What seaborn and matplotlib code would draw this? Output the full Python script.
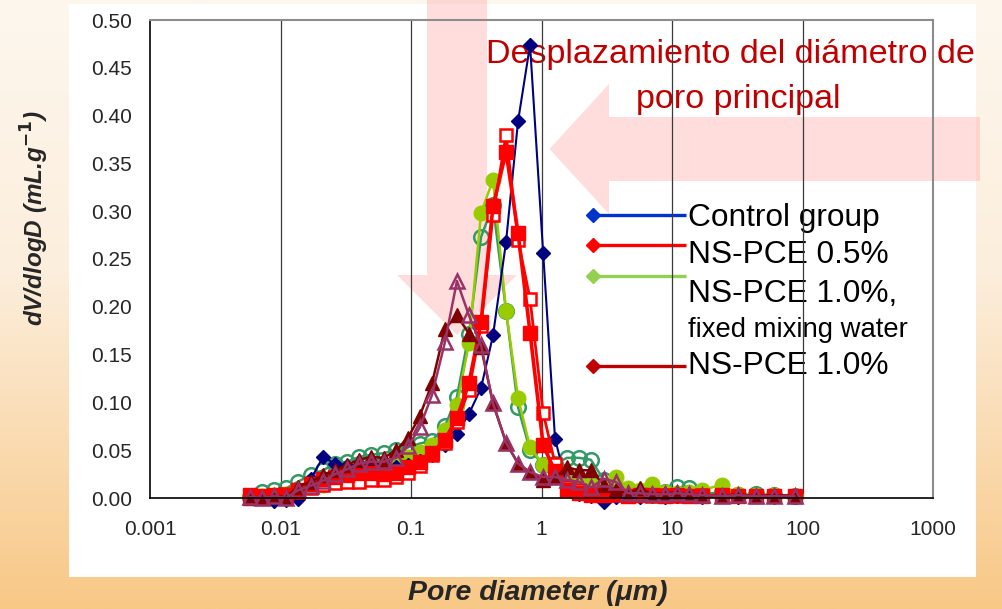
import numpy as np
import pandas as pd
import matplotlib
matplotlib.use("Agg")
import matplotlib.pyplot as plt
from matplotlib.colors import LinearSegmentedColormap
from matplotlib.patches import Polygon, Rectangle
import matplotlib.ticker as mticker
import seaborn as sns

# Pore diameter (um) of the intrusion steps
pore_um = [0.0058, 0.0072, 0.0089, 0.011, 0.0136, 0.0171, 0.0212, 0.0262, 0.0324, 0.040,
           0.049, 0.062, 0.077, 0.095, 0.117, 0.145, 0.182, 0.225, 0.278, 0.344,
           0.425, 0.535, 0.661, 0.817, 1.03, 1.27, 1.57, 1.94, 2.39, 3.0,
           3.7, 4.6, 5.7, 7.0, 8.8, 11.0, 13.6, 17.0, 24.0, 32.0,
           44.0, 60.0, 87.0]

nan = np.nan
# dV/dlogD (mL/g)
control = [nan, nan, -0.003, -0.002, -0.001, 0.020, 0.043, 0.036, 0.033, 0.031,
           0.031, 0.030, 0.032, 0.034, 0.039, 0.045, 0.055, 0.067, 0.088, 0.115,
           0.170, 0.268, 0.394, 0.474, 0.256, 0.062, 0.012, 0.004, 0.002, -0.004,
           0.001, 0.002, 0.001, 0.002, 0.001, 0.002, 0.002, 0.001, 0.002, 0.001,
           0.002, 0.001, 0.001]
pce05_a = [0.003, 0.002, 0.003, 0.003, 0.008, 0.015, 0.020, 0.022, 0.024, 0.026,
           0.026, 0.025, 0.026, 0.032, 0.038, 0.047, 0.061, 0.084, 0.120, 0.184,
           0.305, 0.362, 0.277, 0.173, 0.055, 0.028, 0.008, 0.005, 0.003, 0.003,
           0.004, 0.002, 0.003, 0.003, 0.002, 0.003, 0.002, 0.002, 0.003, 0.002,
           0.002, 0.002, 0.002]
pce05_b = [0.001, 0.002, 0.002, 0.004, 0.006, 0.010, 0.014, 0.016, 0.017, 0.017,
           0.019, 0.019, 0.022, 0.026, 0.033, 0.045, 0.058, 0.080, 0.113, 0.180,
           0.296, 0.380, 0.270, 0.208, 0.089, 0.036, 0.012, 0.008, 0.004, 0.003,
           0.003, 0.002, 0.003, 0.002, 0.003, 0.002, 0.002, 0.003, 0.002, 0.002,
           0.002, 0.002, 0.002]
fixed_a = [0.002, 0.002, 0.003, 0.004, 0.008, 0.011, 0.014, 0.018, 0.021, 0.025,
           0.030, 0.033, 0.038, 0.043, 0.048, 0.055, 0.071, 0.097, 0.162, 0.298,
           0.333, 0.196, 0.105, 0.053, 0.035, 0.030, 0.025, 0.020, 0.016, 0.014,
           0.022, 0.010, 0.008, 0.015, 0.006, 0.005, 0.006, 0.008, 0.014, 0.004,
           0.003, 0.003, 0.002]
fixed_b = [0.001, 0.006, 0.008, 0.010, 0.017, 0.024, 0.029, 0.036, 0.038, 0.043,
           0.045, 0.047, 0.050, 0.053, 0.057, 0.060, 0.075, 0.106, 0.172, 0.273,
           0.306, 0.196, 0.095, 0.050, 0.035, 0.036, 0.042, 0.042, 0.040, 0.019,
           0.012, 0.008, 0.006, 0.005, 0.006, 0.011, 0.010, 0.004, 0.006, 0.003,
           0.004, 0.003, 0.002]
pce10_a = [0.000, 0.000, 0.002, 0.001, 0.012, 0.017, 0.024, 0.029, 0.035, 0.040,
           0.043, 0.042, 0.050, 0.063, 0.086, 0.120, 0.177, 0.191, 0.172, 0.158,
           0.099, 0.058, 0.036, 0.027, 0.019, 0.022, 0.032, 0.029, 0.029, 0.014,
           0.008, 0.005, 0.010, 0.004, 0.005, 0.006, 0.004, 0.003, 0.002, 0.004,
           0.002, 0.003, 0.002]
pce10_b = [0.001, 0.000, 0.002, 0.000, 0.008, 0.013, 0.018, 0.025, 0.030, 0.036,
           0.038, 0.038, 0.042, 0.054, 0.074, 0.108, 0.163, 0.227, 0.191, 0.160,
           0.099, 0.058, 0.036, 0.027, 0.022, 0.022, 0.019, 0.017, 0.011, 0.020,
           0.017, 0.005, 0.005, 0.004, 0.004, 0.005, 0.004, 0.003, 0.002, 0.003,
           0.002, 0.002, 0.002]

legend_labels = ["Control group", "NS-PCE 0.5%", "NS-PCE 1.0%,", "NS-PCE 1.0%"]
legend_note = "fixed mixing water"
legend_colors = ["#0033CC", "#FF0000", "#92D050", "#C00000"]
x_ticks = [0.001, 0.01, 0.1, 1, 10, 100, 1000]
x_tick_labels = ["0.001", "0.01", "0.1", "1", "10", "100", "1000"]
y_ticks = [0.00, 0.05, 0.10, 0.15, 0.20, 0.25, 0.30, 0.35, 0.40, 0.45, 0.50]

sns.set_style("white")
plt.rcParams["font.family"] = ["Liberation Sans", "DejaVu Sans"]

W, H = 1003, 609
fig = plt.figure(figsize=(W / 100, H / 100), dpi=100)

# slide backdrop, drawn in pixel units
bg = fig.add_axes([0, 0, 1, 1], zorder=-10)
bg.set_xlim(0, W)
bg.set_ylim(H, 0)
bg.axis("off")
grad = np.linspace(0, 1, 256)[:, None]
slide_cmap = LinearSegmentedColormap.from_list(
    "slide", [(0, "#FDF7EE"), (0.45, "#FCEEDC"), (1, "#F8C886")])
bg.imshow(grad, extent=(0, W, H, 0), aspect="auto", cmap=slide_cmap)
bg.add_patch(Rectangle((69, 3.5), 907, 573.5, facecolor="white", edgecolor="none"))

pink = (1.0, 0.6, 0.6, 0.33)
bg.add_patch(Polygon([(427, 0), (487, 0), (487, 275), (517, 275), (457, 335),
                      (397, 275), (427, 275)], closed=True, facecolor=pink, edgecolor="none"))
bg.add_patch(Polygon([(980, 117), (980, 181), (609, 181), (609, 214), (549.5, 149),
                      (609, 84), (609, 117)], closed=True, facecolor=pink, edgecolor="none"))

bg.text(730, 63, "Desplazamiento del diámetro de", ha="center", va="baseline",
        fontsize=24.6, color="#C00000")
bg.text(738, 108, "poro principal", ha="center", va="baseline",
        fontsize=24.6, color="#C00000")

# legend rows
leg_y = [215, 245, 276, 366]
leg_base = [226, 263, 302, 374]
for lbl, col, ly, by in zip(legend_labels, legend_colors, leg_y, leg_base):
    bg.plot([592, 686], [ly, ly], color=col, lw=2.4, solid_capstyle="butt")
    bg.plot([593], [ly], marker="D", ms=7.5, color=col, mec=col)
    bg.text(688, by, lbl, ha="left", va="baseline", fontsize=22.8, color="black")
bg.text(688, 337, legend_note, ha="left", va="baseline", fontsize=19.8, color="black")

bg.text(35, 218, "dV/dlogD (mL.g$\\mathbf{^{-1}}$)", rotation=90, ha="center", va="center",
        fontsize=17.5, fontweight="bold", fontstyle="italic")
bg.text(538, 593, "Pore diameter (μm)", ha="center", va="center",
        fontsize=20.5, fontweight="bold", fontstyle="italic")

# data axes
ax = fig.add_axes([150 / W, 1 - 498 / H, (933 - 150) / W, (498 - 20) / H])
ax.set_facecolor("none")
ax.set_xscale("log")

series = [
    (fixed_b, dict(color="#339966", marker="o", markersize=10.5, markerfacecolor="none",
                   markeredgecolor="#339966", markeredgewidth=1.8, linewidth=1.8)),
    (fixed_a, dict(color="#99CC00", marker="o", markersize=10.5, markerfacecolor="#99CC00",
                   markeredgecolor="#99CC00", markeredgewidth=1.0, linewidth=1.8)),
    (control, dict(color="#000080", marker="D", markersize=7.5, markerfacecolor="#000080",
                   markeredgecolor="#000080", markeredgewidth=1.0, linewidth=1.5)),
    (pce05_b, dict(color="#FF0000", marker="s", markersize=9, markerfacecolor="white",
                   markeredgecolor="#FF0000", markeredgewidth=1.8, linewidth=2.0)),
    (pce05_a, dict(color="#FF0000", marker="s", markersize=9.5, markerfacecolor="#FF0000",
                   markeredgecolor="#FF0000", markeredgewidth=1.0, linewidth=2.6)),
    (pce10_a, dict(color="#800000", marker="^", markersize=10.5, markerfacecolor="#800000",
                   markeredgecolor="#800000", markeredgewidth=1.0, linewidth=1.8)),
    (pce10_b, dict(color="#993366", marker="^", markersize=10.5, markerfacecolor="none",
                   markeredgecolor="#993366", markeredgewidth=1.8, linewidth=1.8)),
]
for vals, style in series:
    d = pd.DataFrame({"diameter": pore_um, "dvdlogd": vals}).dropna()
    sns.lineplot(data=d, x="diameter", y="dvdlogd", ax=ax, estimator=None, sort=False,
                 legend=False, clip_on=False, **style)

ax.set_xlim(0.001, 1000)
ax.set_ylim(0, 0.5)
ax.xaxis.set_major_locator(mticker.FixedLocator(x_ticks))
ax.xaxis.set_major_formatter(mticker.FixedFormatter(x_tick_labels))
ax.xaxis.set_minor_locator(mticker.NullLocator())
ax.set_yticks(y_ticks)
ax.yaxis.set_major_formatter(mticker.FormatStrFormatter("%.2f"))
ax.set_xlabel("")
ax.set_ylabel("")
ax.grid(False)
for xv in x_ticks[1:-1]:
    ax.axvline(xv, color="#3a3a3a", lw=0.9, zorder=0.5)

ax.tick_params(axis="both", which="major", direction="out", length=6, width=1,
               color="black", labelsize=15)
ax.tick_params(axis="y", pad=7)
ax.tick_params(axis="x", pad=10)
for side in ["left", "bottom"]:
    ax.spines[side].set_color("black")
    ax.spines[side].set_linewidth(1.2)
for side in ["top", "right"]:
    ax.spines[side].set_visible(True)
    ax.spines[side].set_color("#8c8c8c")
    ax.spines[side].set_linewidth(1.5)

fig.savefig("out.png", dpi=100)
